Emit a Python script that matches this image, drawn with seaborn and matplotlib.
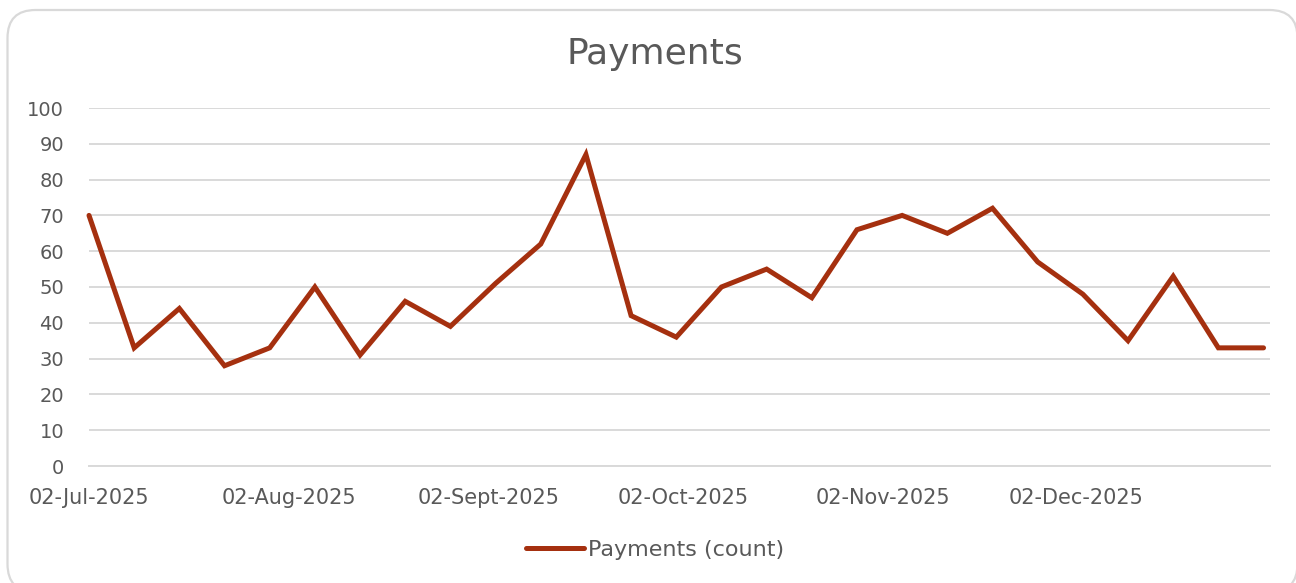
import pandas as pd
import matplotlib.pyplot as plt
import seaborn as sns
from matplotlib.patches import FancyBboxPatch

# weekly payment counts
week_start = "2025-07-02"
payments = [70, 33, 44, 28, 33, 50, 31, 46, 39, 51, 62, 87, 42, 36,
            50, 55, 47, 66, 70, 65, 72, 57, 48, 35, 53, 33, 33]
tick_dates = ["2025-07-02", "2025-08-02", "2025-09-02",
              "2025-10-02", "2025-11-02", "2025-12-02"]
tick_labels = ["02-Jul-2025", "02-Aug-2025", "02-Sept-2025",
               "02-Oct-2025", "02-Nov-2025", "02-Dec-2025"]

df = pd.DataFrame({
    "Date": pd.date_range(week_start, periods=len(payments), freq="7D"),
    "Payments (count)": payments,
})

sns.set_theme(style="white")
plt.rcParams['font.family'] = ['DejaVu Sans']
grey = "#595959"
line_col = "#A5300F"

fig = plt.figure(figsize=(12.96, 5.83), dpi=100)
# rounded chart-area border (in inches), slightly larger than the canvas
border = FancyBboxPatch((0.075, -0.09), 12.9, 5.82,
                        boxstyle="round,pad=0,rounding_size=0.28",
                        transform=fig.dpi_scale_trans, facecolor="white",
                        edgecolor="#D9D9D9", linewidth=1.6, zorder=-10)
fig.add_artist(border)
ax = fig.add_axes([89 / 1296, 1 - 466 / 583, (1270 - 89) / 1296, (466 - 108) / 583])
ax.set_facecolor("none")
ax.set_zorder(5)

sns.lineplot(data=df, x="Date", y="Payments (count)", color=line_col,
             linewidth=3.6, label="Payments (count)", ax=ax,
             solid_capstyle="round", solid_joinstyle="miter")
for ln in ax.lines:
    ln.set_clip_on(False)

ax.set_xlim(df["Date"].iloc[0], df["Date"].iloc[-1] + pd.Timedelta(days=1))
ax.set_ylim(0, 100)
ax.set_yticks(range(0, 101, 10))
ax.set_xticks(pd.to_datetime(tick_dates))
ax.set_xticklabels(tick_labels)
ax.grid(axis="y", color="#D9D9D9", linewidth=1.4)
ax.set_axisbelow(True)
for s in ["top", "right", "left"]:
    ax.spines[s].set_visible(False)
ax.spines["bottom"].set_color("#D9D9D9")
ax.spines["bottom"].set_linewidth(1.4)
ax.tick_params(axis="x", colors="#D9D9D9", length=6, width=1.4, direction="out",
               labelcolor=grey, labelsize=15, pad=10)
ax.tick_params(axis="y", length=0, labelcolor=grey, labelsize=14, pad=18)
ax.set_xlabel("")
ax.set_ylabel("")

fig.text(655 / 1296, 1 - 54 / 583, "Payments", ha="center", va="center",
         fontsize=26, color=grey)
ax.legend(loc="center", bbox_to_anchor=(655 / 1296, 1 - 550 / 583),
          bbox_transform=fig.transFigure, frameon=False, fontsize=16,
          labelcolor=grey, handlelength=2.6, handletextpad=0.2)

fig.savefig("out.png", dpi=100)
